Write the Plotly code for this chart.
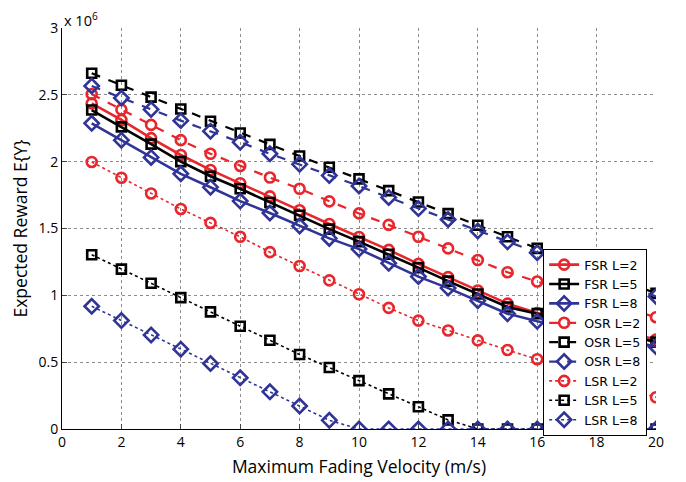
import plotly.graph_objects as go

velocity = list(range(1, 21))

# Expected reward, in units of 1e6
fsr_l2 = [2.436, 2.312, 2.176, 2.050, 1.938, 1.839, 1.740, 1.636, 1.534, 1.436, 1.340, 1.235, 1.136, 1.036, 0.938, 0.868, 0.820, 0.770, 0.720, 0.670]
fsr_l5 = [2.386, 2.260, 2.131, 2.000, 1.891, 1.797, 1.695, 1.599, 1.495, 1.402, 1.307, 1.207, 1.106, 1.010, 0.913, 0.863, 0.810, 0.757, 0.703, 0.650]
fsr_l8 = [2.287, 2.161, 2.032, 1.909, 1.809, 1.705, 1.616, 1.519, 1.426, 1.346, 1.240, 1.140, 1.054, 0.960, 0.863, 0.806, 0.758, 0.711, 0.663, 0.616]
osr_l2 = [2.505, 2.389, 2.275, 2.161, 2.059, 1.968, 1.881, 1.797, 1.703, 1.613, 1.527, 1.438, 1.351, 1.264, 1.173, 1.103, 1.036, 0.970, 0.903, 0.836]
osr_l5 = [2.661, 2.572, 2.483, 2.394, 2.302, 2.215, 2.129, 2.042, 1.958, 1.871, 1.783, 1.698, 1.611, 1.524, 1.438, 1.351, 1.270, 1.185, 1.100, 1.015]
osr_l8 = [2.566, 2.476, 2.391, 2.307, 2.228, 2.146, 2.059, 1.980, 1.896, 1.818, 1.732, 1.649, 1.567, 1.482, 1.400, 1.319, 1.237, 1.155, 1.073, 0.992]
lsr_l2 = [1.998, 1.880, 1.762, 1.646, 1.542, 1.438, 1.323, 1.219, 1.112, 1.008, 0.906, 0.811, 0.737, 0.663, 0.591, 0.522, 0.450, 0.380, 0.310, 0.237]
lsr_l5 = [1.304, 1.196, 1.090, 0.983, 0.876, 0.769, 0.664, 0.557, 0.460, 0.362, 0.263, 0.167, 0.068, 0.0, 0.0, 0.0, 0.0, 0.0, 0.0, 0.0]
lsr_l8 = [0.918, 0.811, 0.704, 0.597, 0.490, 0.383, 0.278, 0.172, 0.065, 0.0, 0.0, 0.0, 0.0, 0.0, 0.0, 0.0, 0.0, 0.0, 0.0, 0.0]

x_ticks = list(range(0, 21, 2))
y_ticks = [0, 0.5, 1, 1.5, 2, 2.5, 3]
y_tick_text = ["0", "0.5", "1", "1.5", "2", "2.5", "3"]

RED = "rgb(232,38,44)"
BLACK = "rgb(0,0,0)"
BLUE = "rgb(48,52,150)"

series = [
    ("FSR L=2", fsr_l2, RED, "solid", "circle-open", 2.6, 10),
    ("FSR L=5", fsr_l5, BLACK, "solid", "square-open", 2.6, 9),
    ("FSR L=8", fsr_l8, BLUE, "solid", "diamond-open", 2.6, 11),
    ("OSR L=2", osr_l2, RED, "dash", "circle-open", 2.2, 10),
    ("OSR L=5", osr_l5, BLACK, "dash", "square-open", 2.2, 9),
    ("OSR L=8", osr_l8, BLUE, "dash", "diamond-open", 2.2, 11),
    ("LSR L=2", lsr_l2, RED, "dot", "circle-open", 1.6, 10),
    ("LSR L=5", lsr_l5, BLACK, "dot", "square-open", 1.6, 9),
    ("LSR L=8", lsr_l8, BLUE, "dot", "diamond-open", 1.6, 11),
]

fig = go.Figure()
for name, vals, color, dash, sym, lw, ms in series:
    fig.add_trace(go.Scatter(
        x=velocity, y=vals, name=name, mode="lines+markers",
        line=dict(color=color, dash=dash, width=lw),
        marker=dict(symbol=sym, size=ms, color=color, line=dict(width=2.6, color=color)),
    ))

font_family = "Open Sans, Noto Sans, Liberation Sans, sans-serif"

fig.update_layout(
    width=686, height=482,
    margin=dict(l=54, r=38, t=20, b=61),
    paper_bgcolor="white", plot_bgcolor="white",
    font=dict(family=font_family, size=13, color="black"),
    showlegend=True,
    legend=dict(
        x=0.81, y=0.449, xanchor="left", yanchor="top",
        bgcolor="white", bordercolor="black", borderwidth=1,
        font=dict(family="DejaVu Sans, Verdana, sans-serif", size=12.6, color="black"),
        tracegroupgap=0, itemwidth=30,
    ),
    xaxis=dict(
        range=[0, 20], tickvals=x_ticks, ticks="inside", ticklen=5,
        showline=True, linecolor="black", linewidth=1, mirror=False,
        showgrid=True, gridcolor="rgb(140,140,140)", griddash="dot", gridwidth=1,
        zeroline=False, tickfont=dict(size=14), automargin=False,
        title=dict(text="Maximum Fading Velocity (m/s)", font=dict(size=17.5), standoff=10),
    ),
    yaxis=dict(
        range=[0, 3], tickvals=y_ticks, ticktext=y_tick_text, ticks="inside", ticklen=5,
        showline=True, linecolor="black", linewidth=1, mirror=False,
        showgrid=True, gridcolor="rgb(140,140,140)", griddash="dot", gridwidth=1,
        zeroline=False, tickfont=dict(size=14), automargin=False,
        title=dict(text="Expected Reward E{Y}", font=dict(size=17.5), standoff=6),
    ),
    annotations=[dict(
        text="x 10<sup>6</sup>", xref="paper", yref="paper", x=0.0, y=1.0,
        xanchor="left", yanchor="bottom", showarrow=False, font=dict(size=14.5),
        yshift=-4,
    )],
)

fig.write_html("out.html")
